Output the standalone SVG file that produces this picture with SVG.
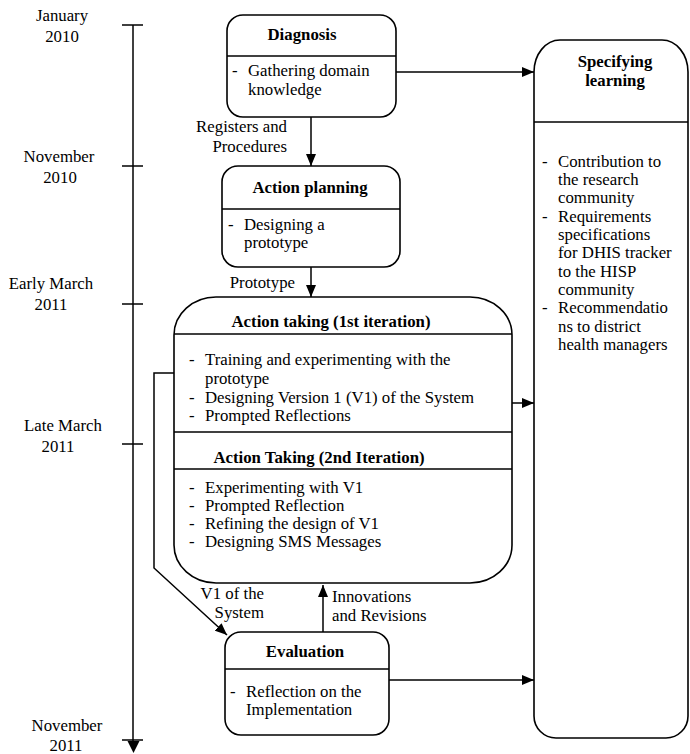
<svg xmlns="http://www.w3.org/2000/svg" width="690" height="754" viewBox="0 0 690 754" font-family="'Liberation Serif', serif">
<defs>
<marker id="ah" viewBox="0 0 12 10" refX="12" refY="5" markerUnits="userSpaceOnUse" markerWidth="12" markerHeight="10" orient="auto">
<path d="M0,0 L12,5 L0,10 z" fill="#000"/>
</marker>
<style>
text{font-family:'Liberation Serif',serif;font-size:16.8px;fill:#000}
.b{font-weight:bold}
.m{text-anchor:middle}
.e{text-anchor:end}
.box{fill:#fff;stroke:#000;stroke-width:1.6}
.div{stroke:#000;stroke-width:1.4}
.c{fill:none;stroke:#000;stroke-width:1.5}
</style>
</defs>
<rect width="690" height="754" fill="#fff"/>

<g id="timeline">
<line class="c" x1="133" y1="25" x2="133" y2="742"/>
<line class="c" x1="122" y1="25" x2="143" y2="25"/>
<line class="c" x1="122" y1="166" x2="143" y2="166"/>
<line class="c" x1="122" y1="304" x2="143" y2="304"/>
<line class="c" x1="122" y1="444" x2="143" y2="444"/>
<line class="c" x1="122" y1="740" x2="143" y2="740"/>
<path d="M127.5,741 L139.5,741 L133.5,753 z" fill="#000"/>
<text class="m" x="62" y="21">January</text>
<text class="m" x="62" y="42">2010</text>
<text class="m" x="59" y="162">November</text>
<text class="m" x="60" y="183">2010</text>
<text class="m" x="51" y="289">Early March</text>
<text class="m" x="51" y="310">2011</text>
<text class="m" x="63" y="431">Late March</text>
<text class="m" x="58" y="452">2011</text>
<text class="m" x="67" y="731">November</text>
<text class="m" x="66" y="751">2011</text>
</g>

<g id="connectors">
<line class="c" x1="396" y1="72" x2="534" y2="72" marker-end="url(#ah)"/>
<line class="c" x1="311" y1="117" x2="311" y2="166" marker-end="url(#ah)"/>
<line class="c" x1="311" y1="267" x2="311" y2="297" marker-end="url(#ah)"/>
<line class="c" x1="512" y1="403" x2="534" y2="403" marker-end="url(#ah)"/>
<line class="c" x1="389" y1="680" x2="534" y2="680" marker-end="url(#ah)"/>
<line class="c" x1="323" y1="632" x2="323" y2="585" marker-end="url(#ah)"/>
<path class="c" d="M174,373 H154 V568 L227,635" marker-end="url(#ah)"/>
<text class="e" x="287" y="132">Registers and</text>
<text class="e" x="287" y="152">Procedures</text>
<text class="e" x="295" y="288">Prototype</text>
<text class="e" x="264" y="599">V1 of the</text>
<text class="e" x="264" y="618">System</text>
<text x="332" y="602">Innovations</text>
<text x="332" y="621">and Revisions</text>
</g>

<g id="diagnosis">
<rect class="box" x="227" y="15" width="169" height="102" rx="16" ry="16"/>
<line class="div" x1="227" y1="56" x2="396" y2="56"/>
<text class="b m" x="302" y="40">Diagnosis</text>
<text x="232" y="76">-</text>
<text x="248" y="76">Gathering domain</text>
<text x="248" y="95">knowledge</text>
</g>

<g id="action-planning">
<rect class="box" x="222" y="166" width="178" height="101" rx="16" ry="16"/>
<line class="div" x1="222" y1="209" x2="400" y2="209"/>
<text class="b m" x="310" y="193">Action planning</text>
<text x="228" y="230">-</text>
<text x="244" y="230">Designing a</text>
<text x="244" y="248">prototype</text>
</g>

<g id="action-taking">
<rect class="box" x="174" y="297" width="338" height="286" rx="42" ry="38"/>
<line class="div" x1="174" y1="334" x2="512" y2="334"/>
<line class="div" x1="174" y1="432" x2="512" y2="432"/>
<line class="div" x1="174" y1="469" x2="512" y2="469"/>
<text class="b m" x="331" y="327">Action taking (1st iteration)</text>
<text x="189" y="365">-</text>
<text x="205" y="365">Training and experimenting with the</text>
<text x="205" y="384">prototype</text>
<text x="189" y="403">-</text>
<text x="205" y="403">Designing Version 1 (V1) of the System</text>
<text x="189" y="421">-</text>
<text x="205" y="421">Prompted Reflections</text>
<text class="b m" x="319" y="463">Action Taking (2nd Iteration)</text>
<text x="189" y="493">-</text>
<text x="205" y="493">Experimenting with V1</text>
<text x="189" y="511">-</text>
<text x="205" y="511">Prompted Reflection</text>
<text x="189" y="529">-</text>
<text x="205" y="529">Refining the design of V1</text>
<text x="189" y="547">-</text>
<text x="205" y="547">Designing SMS Messages</text>
</g>

<g id="evaluation">
<rect class="box" x="225" y="632" width="164" height="103" rx="16" ry="16"/>
<line class="div" x1="225" y1="669" x2="389" y2="669"/>
<text class="b m" x="305" y="657">Evaluation</text>
<text x="230" y="697">-</text>
<text x="246" y="697">Reflection on the</text>
<text x="246" y="715">Implementation</text>
</g>

<g id="specifying-learning">
<path class="box" d="M534,72 A26,32 0 0 1 560,40 H662 A26,32 0 0 1 688,72 V716 A22,22 0 0 1 666,738 H556 A22,22 0 0 1 534,716 Z"/>
<line class="div" x1="534" y1="122" x2="688" y2="122"/>
<text class="b m" x="615" y="67">Specifying</text>
<text class="b m" x="615" y="86">learning</text>
<text x="542" y="167">-</text>
<text x="558" y="167">Contribution to</text>
<text x="558" y="185">the research</text>
<text x="558" y="203">community</text>
<text x="542" y="222">-</text>
<text x="558" y="222">Requirements</text>
<text x="558" y="240">specifications</text>
<text x="558" y="258">for DHIS tracker</text>
<text x="558" y="277">to the HISP</text>
<text x="558" y="295">community</text>
<text x="542" y="313">-</text>
<text x="558" y="313">Recommendatio</text>
<text x="558" y="332">ns to district</text>
<text x="558" y="350">health managers</text>
</g>
</svg>
